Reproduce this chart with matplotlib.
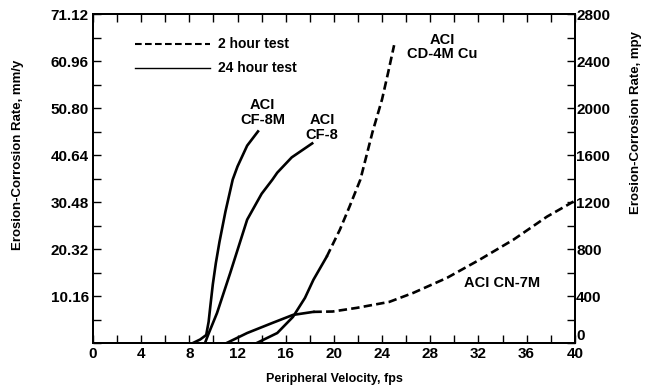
import matplotlib.pyplot as plt
import numpy as np

plt.rcParams['font.family'] = ['Liberation Sans', 'DejaVu Sans']

# peripheral velocity (fps) vs erosion-corrosion rate (mpy)
cf8m_x = [8.3, 8.9, 9.4, 9.6, 9.75, 9.95, 10.2, 10.5, 11.0, 11.6, 12.0, 12.8, 13.7]
cf8m_y = [0, 30, 68, 180, 320, 500, 680, 860, 1120, 1391, 1503, 1680, 1801]

cf8_x = [9.3, 9.6, 10.3, 11.4, 12.8, 14.0, 14.9, 15.3, 16.5, 18.2]
cf8_y = [0, 80, 256, 598, 1050, 1270, 1391, 1450, 1580, 1699]

# CD-4M Cu: 24 hour portion then 2 hour portion
cd4_24_x = [13.6, 15.3, 16.6, 17.6, 18.3, 19.4]
cd4_24_y = [0, 85, 222, 384, 538, 734]
cd4_2_x = [19.4, 20.5, 21.3, 22.2, 23.2, 24.0, 24.5, 25.0]
cd4_2_y = [734, 965, 1161, 1391, 1793, 2074, 2300, 2535]

# CN-7M: 24 hour portion then 2 hour portion
cn7_24_x = [11.1, 12.8, 14.9, 16.6, 18.3]
cn7_24_y = [0, 85, 171, 239, 265]
cn7_2_x = [18.3, 19.9, 21.9, 24.6, 26.6, 29.4, 32.1, 34.9, 37.7, 40.0]
cn7_2_y = [265, 268, 299, 350, 427, 555, 709, 879, 1076, 1210]

x_ticks = np.arange(0, 41, 4)
mpy_ticks = np.arange(0, 2801, 400)
mmy_labels = ['', '10.16', '20.32', '30.48', '40.64', '50.80', '60.96', '71.12']

fig = plt.figure(figsize=(6.48, 3.9), dpi=100)
ax = fig.add_axes([0.1435, 0.1205, 0.7435, 0.8435])

lw = 1.9
dash = (0, (3.2, 1.6))
ax.plot(cf8m_x, cf8m_y, color='black', lw=lw)
ax.plot(cf8_x, cf8_y, color='black', lw=lw)
ax.plot(cd4_24_x, cd4_24_y, color='black', lw=lw)
ax.plot(cd4_2_x, cd4_2_y, color='black', lw=lw, linestyle=dash)
ax.plot(cn7_24_x, cn7_24_y, color='black', lw=lw)
ax.plot(cn7_2_x, cn7_2_y, color='black', lw=lw, linestyle=dash)

# legend drawn by hand
ax.plot([3.5, 9.7], [2544, 2544], color='black', lw=1.5, linestyle=dash)
ax.plot([3.5, 9.7], [2339, 2339], color='black', lw=1.0)
lkw = dict(fontsize=10, fontweight='bold', color='black')
ax.text(10.4, 2544, '2 hour test', va='center', **lkw)
ax.text(10.4, 2339, '24 hour test', va='center', **lkw)

# curve labels
ckw = dict(fontsize=10.5, fontweight='bold', color='black',
           ha='center', va='center', linespacing=1.05)
ax.text(14.1, 1960, 'ACI\nCF-8M', **ckw)
ax.text(19.0, 1835, 'ACI\nCF-8', **ckw)
ax.text(29.0, 2520, 'ACI\nCD-4M Cu', **ckw)
ax.text(34.0, 512, 'ACI CN-7M', **ckw)

ax.set_xlim(0, 40)
ax.set_ylim(0, 2800)
ax.set_xticks(x_ticks)
ax.set_xticklabels([str(v) for v in x_ticks], fontsize=11, fontweight='bold')
ax.set_xticks(np.arange(0, 41, 2), minor=True)
ax.set_yticks(mpy_ticks)
ax.set_yticklabels(mmy_labels, fontsize=11, fontweight='bold')
ax.set_yticks(np.arange(0, 2801, 200), minor=True)
ax.tick_params(which='both', direction='in', top=True, length=6, width=1.0, pad=3)
ax.tick_params(axis='x', pad=3)

ax2 = ax.twinx()
ax2.set_ylim(0, 2800)
ax2.set_yticks(mpy_ticks)
ax2.set_yticklabels([str(v) for v in mpy_ticks], fontsize=11, fontweight='bold')
ax2.set_yticks(np.arange(0, 2801, 200), minor=True)
ax2.tick_params(which='both', direction='in', length=6, width=1.0, pad=1)
# the bottom "0" sits a little above the corner, clear of the "40"
ax2.yaxis.get_major_ticks()[0].label2.set_va('bottom')

for a in (ax, ax2):
    for s in a.spines.values():
        s.set_linewidth(1.4)

ax.set_xlabel('Peripheral Velocity, fps', fontsize=9, fontweight='bold')
ax.xaxis.set_label_coords(0.502, -0.09)
ax.set_ylabel('Erosion-Corrosion Rate, mm/y', fontsize=9.5, fontweight='bold')
ax.yaxis.set_label_coords(-0.143, 0.571)
ax2.set_ylabel('Erosion-Corrosion Rate, mpy', fontsize=9.5, fontweight='bold')
ax2.yaxis.set_label_coords(1.114, 0.669)

fig.savefig('out.png', dpi=100)
